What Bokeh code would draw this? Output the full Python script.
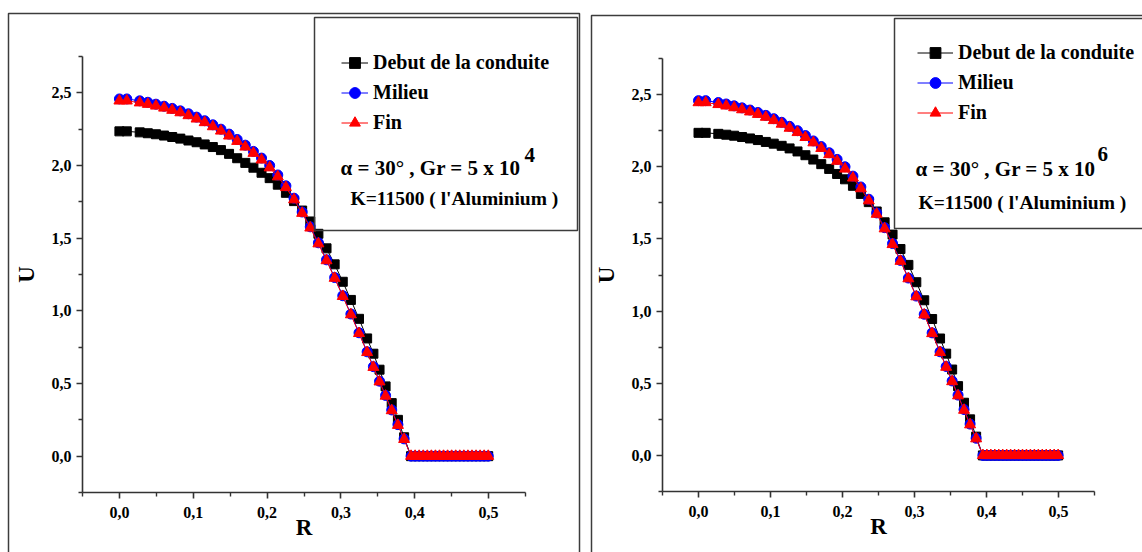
from bokeh.plotting import figure
from bokeh.layouts import row
from bokeh.models import (ColumnDataSource, FixedTicker, CustomJSTickFormatter,
                          BoxAnnotation, Label, Legend, LegendItem, LinearAxis)
from bokeh.embed import file_html
from bokeh.resources import INLINE

# ---------------- data ----------------
R = [0.0, 0.010, 0.0275, 0.0385, 0.0495, 0.0605, 0.0715, 0.0825, 0.0935, 0.1045,
     0.1155, 0.1265, 0.1375, 0.1485, 0.1595, 0.1705, 0.1815, 0.1925, 0.2035, 0.2145,
     0.2255, 0.2365, 0.2475, 0.2585, 0.2695, 0.2805, 0.2915, 0.3025, 0.3135, 0.3245,
     0.3355, 0.3440, 0.3523, 0.3605, 0.3688, 0.3772, 0.3856,
     0.3950, 0.4005, 0.4060, 0.4115, 0.4170, 0.4225, 0.4280, 0.4335, 0.4390, 0.4445,
     0.4500, 0.4555, 0.4610, 0.4665, 0.4720, 0.4775, 0.4830, 0.4885, 0.4940, 0.4995]

# Panel 1 : alpha = 30 deg, Gr = 5 x 10^4
debut_1 = [2.235, 2.235, 2.228, 2.222, 2.215, 2.206, 2.196, 2.185, 2.172, 2.160,
           2.145, 2.127, 2.106, 2.080, 2.050, 2.018, 1.985, 1.950, 1.913, 1.868,
           1.812, 1.755, 1.690, 1.615, 1.530, 1.430, 1.320, 1.200, 1.075, 0.945,
           0.810, 0.705, 0.595, 0.480, 0.365, 0.250, 0.130,
           0, 0, 0, 0, 0, 0, 0, 0, 0, 0, 0, 0, 0, 0, 0, 0, 0, 0, 0, 0]
milieu_1 = [2.458, 2.458, 2.445, 2.435, 2.422, 2.408, 2.393, 2.376, 2.356, 2.333,
            2.308, 2.280, 2.250, 2.216, 2.179, 2.140, 2.097, 2.051, 2.000, 1.935,
            1.860, 1.775, 1.680, 1.578, 1.468, 1.351, 1.229, 1.104, 0.978, 0.849,
            0.718, 0.616, 0.516, 0.418, 0.318, 0.217, 0.119,
            0, 0, 0, 0, 0, 0, 0, 0, 0, 0, 0, 0, 0, 0, 0, 0, 0, 0, 0, 0]
fin_1 = [2.445, 2.445, 2.432, 2.422, 2.410, 2.396, 2.381, 2.364, 2.344, 2.321,
         2.296, 2.268, 2.238, 2.204, 2.167, 2.128, 2.085, 2.039, 1.985, 1.923,
         1.849, 1.765, 1.672, 1.571, 1.462, 1.346, 1.225, 1.100, 0.974, 0.845,
         0.714, 0.612, 0.512, 0.414, 0.314, 0.213, 0.116,
         0, 0, 0, 0, 0, 0, 0, 0, 0, 0, 0, 0, 0, 0, 0, 0, 0, 0, 0, 0]

# Panel 2 : alpha = 30 deg, Gr = 5 x 10^6
debut_2 = [2.235, 2.235, 2.228, 2.222, 2.215, 2.206, 2.196, 2.185, 2.172, 2.160,
           2.145, 2.127, 2.106, 2.080, 2.050, 2.018, 1.985, 1.950, 1.913, 1.868,
           1.812, 1.755, 1.690, 1.615, 1.530, 1.430, 1.320, 1.200, 1.075, 0.945,
           0.810, 0.705, 0.595, 0.480, 0.365, 0.250, 0.130,
           0, 0, 0, 0, 0, 0, 0, 0, 0, 0, 0, 0, 0, 0, 0, 0, 0, 0, 0, 0]
milieu_2 = [2.458, 2.458, 2.445, 2.435, 2.422, 2.408, 2.393, 2.376, 2.356, 2.333,
            2.308, 2.280, 2.250, 2.216, 2.179, 2.140, 2.097, 2.051, 2.000, 1.935,
            1.860, 1.775, 1.680, 1.578, 1.468, 1.351, 1.229, 1.104, 0.978, 0.849,
            0.718, 0.616, 0.516, 0.418, 0.318, 0.217, 0.119,
            0, 0, 0, 0, 0, 0, 0, 0, 0, 0, 0, 0, 0, 0, 0, 0, 0, 0, 0, 0]
fin_2 = [2.445, 2.445, 2.432, 2.422, 2.410, 2.396, 2.381, 2.364, 2.344, 2.321,
         2.296, 2.268, 2.238, 2.204, 2.167, 2.128, 2.085, 2.039, 1.985, 1.923,
         1.849, 1.765, 1.672, 1.571, 1.462, 1.346, 1.225, 1.100, 0.974, 0.845,
         0.714, 0.612, 0.512, 0.414, 0.314, 0.213, 0.116,
         0, 0, 0, 0, 0, 0, 0, 0, 0, 0, 0, 0, 0, 0, 0, 0, 0, 0, 0, 0]

series_names = ["Debut de la conduite", "Milieu", "Fin"]
x_bounds = (-0.05, 0.55)
y_bounds = (-0.25, 2.75)
x_major = [0.0, 0.1, 0.2, 0.3, 0.4, 0.5]
x_minor = [-0.05, 0.05, 0.15, 0.25, 0.35, 0.45, 0.55]
y_major = [0.0, 0.5, 1.0, 1.5, 2.0, 2.5]
y_minor = [-0.25, 0.25, 0.75, 1.25, 1.75, 2.25, 2.75]

FONT = "Liberation Serif"
AX = "#333333"
H = 552


def make_panel(width, area, deb, mil, fin, exponent, cfg):
    # area = pixel box (left, right, top, bottom) of the axes inside this canvas;
    # the frame spans the whole canvas so frames/legend can sit anywhere.
    L, Rr, T, B = area
    kx = (x_bounds[1] - x_bounds[0]) / (Rr - L)
    ky = (y_bounds[1] - y_bounds[0]) / (B - T)
    xr = (x_bounds[0] - L * kx, x_bounds[1] + (width - Rr) * kx)
    yr = (y_bounds[0] - (H - B) * ky, y_bounds[1] + T * ky)

    p = figure(width=width, height=H, x_range=xr, y_range=yr,
               output_backend="svg", toolbar_location=None,
               x_axis_location=None, y_axis_location=None,
               min_border=0)
    p.xgrid.visible = False
    p.ygrid.visible = False
    p.outline_line_color = None
    p.background_fill_color = "white"
    p.border_fill_color = "white"

    fmt = CustomJSTickFormatter(code="return tick.toFixed(1).replace('.', ',');")
    xa = LinearAxis(fixed_location=y_bounds[0], bounds=x_bounds)
    ya = LinearAxis(fixed_location=x_bounds[0], bounds=y_bounds)
    p.add_layout(xa, "below")
    p.add_layout(ya, "left")
    for ax, maj, mnr, lab in ((xa, x_major, x_minor, "R"),
                              (ya, y_major, y_minor, "U")):
        ax.ticker = FixedTicker(ticks=maj, minor_ticks=mnr)
        ax.formatter = fmt
        ax.axis_label = lab
        ax.axis_line_color = AX
        ax.axis_line_width = 1.6
        ax.major_tick_line_color = AX
        ax.major_tick_line_width = 1.6
        ax.minor_tick_line_color = AX
        ax.minor_tick_line_width = 1.4
        ax.major_tick_in = 0
        ax.major_tick_out = 6
        ax.minor_tick_in = 0
        ax.minor_tick_out = 4
        ax.major_label_text_font = FONT
        ax.major_label_text_font_style = "bold"
        ax.major_label_text_font_size = "16px"
        ax.major_label_text_color = "black"
        ax.axis_label_text_font = FONT
        ax.axis_label_text_font_style = "bold"
        ax.axis_label_text_font_size = "23px"
        ax.axis_label_text_color = "black"
    xa.major_label_standoff = 8
    xa.axis_label_standoff = -6
    ya.major_label_standoff = 5
    ya.axis_label_standoff = 10

    src = ColumnDataSource(dict(r=R, deb=deb, mil=mil, fin=fin))
    l1 = p.line("r", "deb", source=src, line_color="black", line_width=1)
    s1 = p.scatter("r", "deb", source=src, marker="square", size=9,
                   fill_color="black", line_color="black")
    l2 = p.line("r", "mil", source=src, line_color="blue", line_width=1)
    s2 = p.scatter("r", "mil", source=src, marker="circle", size=10,
                   fill_color="blue", line_color="blue")
    l3 = p.line("r", "fin", source=src, line_color="red", line_width=1)
    s3 = p.scatter("r", "fin", source=src, marker="triangle", size=11,
                   fill_color="red", line_color="red")

    # outer page frame and legend frame (canvas pixels)
    for box in (cfg["frame"], cfg["box"]):
        p.add_layout(BoxAnnotation(left=box[0], right=box[1], top=box[2], bottom=box[3],
                                   left_units="canvas", right_units="canvas",
                                   top_units="canvas", bottom_units="canvas",
                                   fill_alpha=0, line_color="#3c3c3c", line_alpha=1,
                                   line_width=1.5))

    legend = Legend(items=[LegendItem(label=series_names[0], renderers=[l1, s1]),
                           LegendItem(label=series_names[1], renderers=[l2, s2]),
                           LegendItem(label=series_names[2], renderers=[l3, s3])],
                    location=cfg["legend_loc"], padding=0, margin=0, spacing=3,
                    glyph_width=cfg["glyph_w"], glyph_height=27, label_height=27,
                    label_standoff=5, border_line_alpha=0, background_fill_alpha=0,
                    label_text_font=FONT, label_text_font_style="bold",
                    label_text_font_size="20px", label_text_color="black")
    p.add_layout(legend, "center")

    tx, ty = cfg["alpha"]
    p.add_layout(Label(x=tx, y=ty, x_units="canvas", y_units="canvas",
                       text=cfg["alpha_text"], text_font=FONT, text_font_style="bold",
                       text_font_size="21px", text_baseline="alphabetic",
                       text_color="black"))
    ex, ey = cfg["exp"]
    p.add_layout(Label(x=ex, y=ey, x_units="canvas", y_units="canvas",
                       text=exponent, text_font=FONT, text_font_style="bold",
                       text_font_size="21px", text_baseline="alphabetic",
                       text_color="black"))
    kx_, ky_ = cfg["k"]
    p.add_layout(Label(x=kx_, y=ky_, x_units="canvas", y_units="canvas",
                       text="K=11500 ( l'Aluminium )", text_font=FONT,
                       text_font_style="bold", text_font_size="19.5px",
                       text_baseline="alphabetic", text_color="black"))
    return p


cfg1 = dict(frame=(8, 579, 13, 600), box=(314, 577, 17, 230),
            legend_loc=(341, 416), glyph_w=27,
            alpha=(340, 167), alpha_text="\u03b1  = 30\u00b0 , Gr = 5 x 10",
            exp=(524, 154), k=(350, 198))
cfg2 = dict(frame=(6, 600, 15, 600), box=(309, 600, 18, 228),
            legend_loc=(332, 426), glyph_w=36,
            alpha=(330, 168), alpha_text="\u03b1 = 30\u00b0 , Gr = 5 x 10",
            exp=(512, 153), k=(333, 202))

p1 = make_panel(585, (82, 525, 56, 492), debut_1, milieu_1, fin_1, "4", cfg1)
p2 = make_panel(557, (77, 509, 58, 491), debut_2, milieu_2, fin_2, "6", cfg2)

layout = row(p1, p2, spacing=0)
open("out.html", "w").write(file_html(layout, INLINE))
